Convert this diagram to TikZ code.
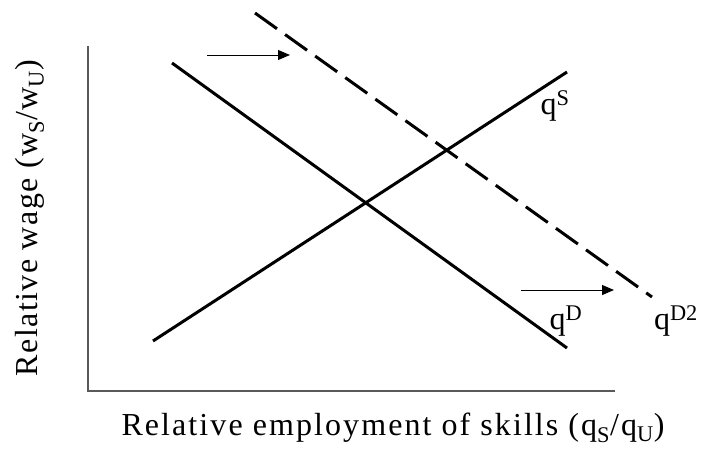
\documentclass[tikz,border=0pt]{standalone}
\usepackage{fontspec}
\setmainfont{Liberation Serif}
\newfontfamily\spacedserif[LetterSpace=6.5]{Liberation Serif}
\newfontfamily\spacedserifv[LetterSpace=4.5]{Liberation Serif}
\usetikzlibrary{arrows.meta}
\begin{document}
\begin{tikzpicture}[x=1pt,y=-1pt,
  axis/.style={draw=black!65,line width=1.3pt},
  curve/.style={draw=black,line width=3pt},
  shiftarrow/.style={draw=black,line width=1pt,-{Triangle[length=12pt,width=10pt]}},
  lbl/.style={font=\fontsize{32}{38}\selectfont,inner sep=0pt},
  axlbl/.style={font=\fontsize{32}{38}\spacedserif,inner sep=0pt},
  axlblv/.style={font=\fontsize{32}{38}\spacedserifv,inner sep=0pt}]
\useasboundingbox (0,0) rectangle (704,448);
% axes
\coordinate (O) at (88,391);
\coordinate (Ytop) at (88,46);
\coordinate (Xend) at (615,391);
\draw[axis] (Ytop) -- (O) -- (Xend);
% supply
\coordinate (s1) at (153,341);
\coordinate (s2) at (567,72);
\draw[curve] (s1) -- (s2);
% demand
\coordinate (d1) at (172,63);
\coordinate (d2) at (567,348);
\draw[curve] (d1) -- (d2);
% shifted demand
\coordinate (e1) at (255,13);
\coordinate (e2) at (652,297);
\draw[curve,dash pattern=on 27pt off 10pt] (e1) -- (e2);
% arrows
\coordinate (a1) at (207,55);
\coordinate (a2) at (290,55);
\draw[shiftarrow] (a1) -- (a2);
\coordinate (b1) at (521,290);
\coordinate (b2) at (614,290);
\draw[shiftarrow] (b1) -- (b2);
% labels
\node[lbl] (qs) at (555,106) {q\textsuperscript{S}};
\node[lbl] (qd) at (566,321) {q\textsuperscript{D}};
\node[lbl] (qd2) at (676,321) {q\textsuperscript{D2}};
\node[axlbl] (xl) at (393,428) {Relative employment of skills (q\textsubscript{S}/q\textsubscript{U})};
\node[axlblv,rotate=90] (yl) at (30,218) {Relative wage (w\textsubscript{S}/w\textsubscript{U})};
\end{tikzpicture}
\end{document}
